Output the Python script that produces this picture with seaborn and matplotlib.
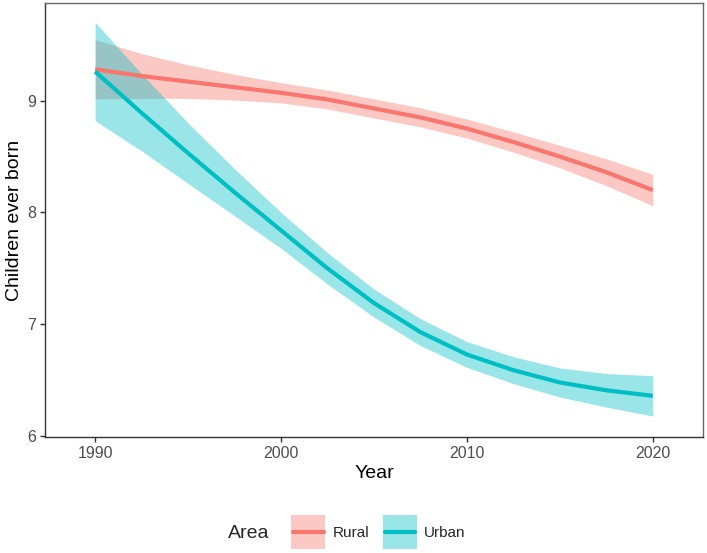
import matplotlib.pyplot as plt
import pandas as pd
import seaborn as sns
from matplotlib.legend_handler import HandlerTuple
from matplotlib.lines import Line2D

# smoothed fit with confidence band
years = [1990, 1992.5, 1995, 1997.5, 2000, 2002.5, 2005, 2007.5, 2010, 2012.5, 2015, 2017.5, 2020]
rural_fit = [9.28, 9.22, 9.17, 9.12, 9.07, 9.01, 8.93, 8.85, 8.75, 8.63, 8.50, 8.36, 8.20]
rural_lo = [9.015, 9.02, 9.02, 9.005, 8.98, 8.925, 8.845, 8.765, 8.665, 8.54, 8.40, 8.24, 8.06]
rural_hi = [9.545, 9.42, 9.32, 9.235, 9.16, 9.095, 9.015, 8.935, 8.835, 8.72, 8.60, 8.48, 8.34]
urban_fit = [9.26, 8.89, 8.53, 8.18, 7.84, 7.50, 7.19, 6.93, 6.73, 6.59, 6.48, 6.41, 6.36]
urban_lo = [8.82, 8.55, 8.26, 7.97, 7.68, 7.36, 7.065, 6.81, 6.615, 6.47, 6.35, 6.26, 6.18]
urban_hi = [9.70, 9.24, 8.80, 8.39, 8.00, 7.64, 7.315, 7.05, 6.845, 6.71, 6.61, 6.56, 6.54]

areas = ["Rural", "Urban"]
palette = {"Rural": "#F8766D", "Urban": "#00BFC4"}

df = pd.concat(
    [
        pd.DataFrame({"year": years, "fit": rural_fit, "lo": rural_lo, "hi": rural_hi, "area": "Rural"}),
        pd.DataFrame({"year": years, "fit": urban_fit, "lo": urban_lo, "hi": urban_hi, "area": "Urban"}),
    ],
    ignore_index=True,
)

sns.set_theme(style="white")
plt.rcParams["font.family"] = ["Liberation Sans", "DejaVu Sans"]

fig = plt.figure(figsize=(7.07, 5.53), dpi=100)
ax = fig.add_axes([0.0636, 0.2103, 0.9307, 0.7837])

# draw ribbon then line per group, like geom_smooth
for area in areas:
    sub = df[df["area"] == area]
    ax.fill_between(sub["year"], sub["lo"], sub["hi"], color=palette[area], alpha=0.4, lw=0)
    sns.lineplot(
        data=sub, x="year", y="fit", color=palette[area], lw=3,
        solid_capstyle="butt", legend=False, ax=ax,
    )

ax.set_xlim(1987.3, 2022.7)
ax.set_ylim(5.995, 9.87)
ax.set_xticks([1990, 2000, 2010, 2020])
ax.set_yticks([6, 7, 8, 9])
ax.set_xlabel("Year", fontsize=14, color="black", labelpad=3)
ax.set_ylabel("Children ever born", fontsize=14, color="black", labelpad=3)
ax.tick_params(length=3.5, width=1, color="#333333", labelcolor="#4d4d4d", labelsize=11.5, pad=3)
ax.tick_params(axis="x", bottom=True)
ax.tick_params(axis="y", left=True)
for side in ["left", "bottom"]:
    ax.spines[side].set_color("#333333")
    ax.spines[side].set_linewidth(1)
for side in ["top", "right"]:
    ax.spines[side].set_color("#666666")
    ax.spines[side].set_linewidth(1)

# legend key: shaded square with the line across it
handles = [
    (
        Line2D([], [], marker="s", markersize=24, markeredgewidth=0, linestyle="none",
               color=palette[a], alpha=0.4),
        Line2D([], [], color=palette[a], lw=3),
    )
    for a in areas
]
fig.text(0.322, 0.036, "Area", fontsize=14, va="center", ha="left")
fig.legend(
    handles, areas, loc="center left", bbox_to_anchor=(0.395, 0.036), ncol=2,
    frameon=False, fontsize=11, handlelength=2.0, numpoints=1,
    handletextpad=0.6, columnspacing=1.0,
    handler_map={tuple: HandlerTuple(ndivide=1, pad=0)},
)

fig.savefig("out.png", dpi=100)
